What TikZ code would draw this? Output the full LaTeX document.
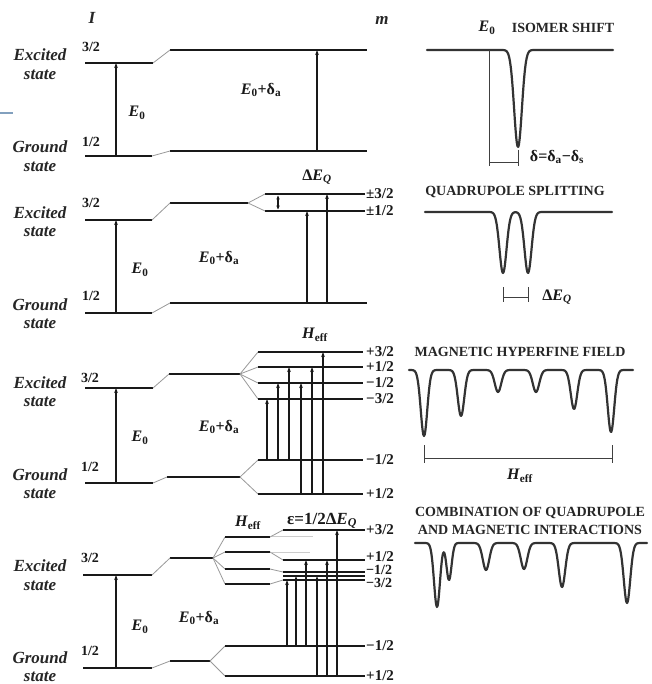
\documentclass[tikz,border=0pt]{standalone}
\usepackage{fontspec}
\setmainfont{Liberation Serif}
\usetikzlibrary{arrows.meta}
\tikzset{
 level/.style={line width=2.6pt, draw=black!90},
 link/.style={line width=0.8pt, draw=black!40},
 faint/.style={line width=0.8pt, draw=black!20},
 trans/.style={line width=1.1pt, draw=black!90, -{Stealth[length=5pt,width=3.6pt]}},
 dbl/.style={line width=1.1pt, draw=black!90, {Stealth[length=4pt,width=3.4pt]}-{Stealth[length=4pt,width=3.4pt]}},
 spec/.style={line width=2.2pt, draw=black!80, line join=round, line cap=round},
 brk/.style={line width=1pt, draw=black!75},
 statelbl/.style={font=\fontsize{17}{17}\selectfont\bfseries\itshape, text=black!85, inner sep=0pt},
 num/.style={font=\fontsize{14}{14}\selectfont\bfseries, text=black!90, inner sep=0pt},
 mlbl/.style={font=\fontsize{15}{15}\selectfont\bfseries, text=black!90, inner sep=0pt, anchor=west},
 elbl/.style={font=\fontsize{16}{16}\selectfont\bfseries, text=black!90, inner sep=0pt},
 title/.style={font=\fontsize{14}{14}\selectfont\bfseries, text=black!85, inner sep=0pt},
 declare function={g(\t,\c,\w)=exp(-min(((\t-\c)/\w)*((\t-\c)/\w),9));}
}
\newcommand\Ez{\textit{E}\textsubscript{0}}
\newcommand\Eza{\textit{E}\textsubscript{0}+δ\textsubscript{a}}
\newcommand\dEQ{Δ\textit{E\textsubscript{Q}}}
\newcommand\Heff{\textit{H}\textsubscript{eff}}
\newcommand\lvl[3]{\draw[level] (#1,#3) -- (#2,#3);}
\newcommand\lnk[4]{\draw[link] (#1,#2) -- (#3,#4);}
\newcommand\tr[3]{\draw[trans] (#1,#2) -- (#1,#3);}
\begin{document}
\begin{tikzpicture}[x=1pt,y=-1pt]
\useasboundingbox (0,0) rectangle (651,684);
\fill[white] (0,0) rectangle (651,684);
\draw[line width=1.5pt, draw={rgb,255:red,130;green,160;blue,190}] (0,113) -- (13,113);

% headers
\node[statelbl] (hI) at (92,18) {I};
\node[statelbl] (hm) at (382,20) {m};

% ---------- panel 1 ----------
\node[statelbl] (ex1) at (40,55) {Excited};
\node[statelbl] (st1) at (40,75) {state};
\node[statelbl] (gr1) at (40,147) {Ground};
\node[statelbl] (sg1) at (40,167) {state};
\node[num] (n1a) at (91,47) {3/2};
\node[num] (n1b) at (91,142) {1/2};
\lvl{85}{153}{63}
\lvl{85}{152}{156}
\lvl{170}{367}{50}
\lvl{170}{367}{151}
\lnk{153}{63}{170}{50}
\lnk{152}{156}{170}{151}
\tr{116}{156}{63}
\tr{317}{151}{50}
\node[elbl] (e1) at (137,113) {\Ez};
\node[elbl] (ed1) at (261,90) {\Eza};

% ---------- panel 2 ----------
\node[statelbl] (ex2) at (40,213) {Excited};
\node[statelbl] (st2) at (40,232) {state};
\node[statelbl] (gr2) at (40,305) {Ground};
\node[statelbl] (sg2) at (40,324) {state};
\node[num] (n2a) at (91,203) {3/2};
\node[num] (n2b) at (91,296) {1/2};
\lvl{85}{152}{220}
\lvl{85}{152}{313}
\lvl{170}{248}{203}
\lvl{265}{365}{194}
\lvl{265}{365}{211}
\lvl{170}{367}{303}
\lnk{152}{220}{170}{203}
\lnk{248}{203}{265}{194}
\lnk{248}{203}{265}{211}
\lnk{152}{313}{170}{303}
\tr{116}{313}{220}
\tr{307}{303}{211}
\tr{327}{303}{194}
\draw[dbl] (278,195.5) -- (278,209.5);
\node[mlbl] (m2a) at (366,194) {±3/2};
\node[mlbl] (m2b) at (366,211) {±1/2};
\node[elbl] (dq2) at (317,177) {\dEQ};
\node[elbl] (e2) at (140,270) {\Ez};
\node[elbl] (ed2) at (219,258) {\Eza};

% ---------- panel 3 ----------
\node[statelbl] (ex3) at (40,383) {Excited};
\node[statelbl] (st3) at (40,402) {state};
\node[statelbl] (gr3) at (40,475) {Ground};
\node[statelbl] (sg3) at (40,494) {state};
\node[num] (n3a) at (90,378) {3/2};
\node[num] (n3b) at (90,467) {1/2};
\lvl{85}{153}{388}
\lvl{85}{153}{483}
\lvl{169}{240}{374}
\lvl{167}{240}{477}
\lnk{153}{388}{169}{374}
\lnk{153}{483}{167}{477}
\foreach \yy in {352,367,383,399}{\lnk{240}{374}{258}{\yy}\lvl{258}{363}{\yy}}
\foreach \yy in {460,494}{\lnk{240}{477}{258}{\yy}\lvl{258}{363}{\yy}}
\tr{116}{483}{388}
\tr{267}{460}{399}
\tr{278}{460}{383}
\tr{289}{460}{367}
\tr{301}{494}{383}
\tr{312}{494}{367}
\tr{323}{494}{352}
\node[mlbl] (m3a) at (366,352) {+3/2};
\node[mlbl] (m3b) at (366,367) {+1/2};
\node[mlbl] (m3c) at (366,383) {−1/2};
\node[mlbl] (m3d) at (366,399) {−3/2};
\node[mlbl] (m3e) at (366,460) {−1/2};
\node[mlbl] (m3f) at (366,494) {+1/2};
\node[elbl] (h3) at (315,335) {\Heff};
\node[elbl] (e3) at (140,438) {\Ez};
\node[elbl] (ed3) at (219,427) {\Eza};

% ---------- panel 4 ----------
\node[statelbl] (ex4) at (40,566) {Excited};
\node[statelbl] (st4) at (40,586) {state};
\node[statelbl] (gr4) at (40,658) {Ground};
\node[statelbl] (sg4) at (40,677) {state};
\node[num] (n4a) at (90,558) {3/2};
\node[num] (n4b) at (90,651) {1/2};
\lvl{83}{152}{575}
\lvl{83}{152}{668}
\lvl{170}{213}{558}
\lnk{152}{575}{170}{558}
\foreach \yy in {537,552,569,584}{\lnk{213}{558}{225}{\yy}\lvl{225}{270}{\yy}}
\draw[faint] (272,536) -- (313,536);
\draw[faint] (272,552) -- (310,552);
\lnk{270}{537}{283}{530}
\lnk{270}{552}{283}{560}
\lnk{270}{569}{283}{572}
\lnk{270}{584}{283}{580}
\lvl{283}{365}{530}
\lvl{283}{365}{560}
\draw[level, line width=1.7pt] (283,572) -- (365,572);
\draw[level, line width=1.7pt] (283,576) -- (365,576);
\draw[level, line width=1.7pt] (283,580) -- (365,580);
\lvl{170}{210}{661}
\lnk{152}{668}{170}{661}
\foreach \yy in {646,676}{\lnk{210}{661}{225}{\yy}\lvl{225}{365}{\yy}}
\tr{116}{668}{575}
\tr{287}{646}{580}
\tr{296}{646}{576}
\tr{306}{646}{560}
\tr{317}{676}{576}
\tr{327}{676}{560}
\tr{337}{676}{530}
\node[mlbl] (m4a) at (366,530) {+3/2};
\node[mlbl] (m4b) at (366,557) {+1/2};
\node[mlbl, font=\fontsize{14}{14}\selectfont\bfseries] (m4c) at (366,570) {−1/2};
\node[mlbl, font=\fontsize{14}{14}\selectfont\bfseries] (m4d) at (366,583) {−3/2};
\node[mlbl] (m4e) at (366,646) {−1/2};
\node[mlbl] (m4f) at (366,676) {+1/2};
\node[elbl] (h4) at (248,523) {\Heff};
\node[elbl, font=\fontsize{17}{17}\selectfont\bfseries] (eps4) at (322,521) {ε=1/2\dEQ};
\node[elbl] (e4) at (140,627) {\Ez};
\node[elbl] (ed4) at (199,618) {\Eza};

% ---------- spectra ----------
\node[elbl] (se1) at (487,28) {\Ez};
\node[title] (t1) at (563,28) {ISOMER SHIFT};
\draw[spec] plot[domain=427:613,samples=260,smooth] (\x,{50+97*g(\x,518,5.5)});
\draw[brk] (489,50) -- (489,166);
\draw[brk] (518,150) -- (518,166);
\draw[brk] (489,163) -- (518,163);
\node[elbl] (sd1) at (557,157) {δ=δ\textsubscript{a}−δ\textsubscript{s}};

\node[title] (t2) at (515,192) {QUADRUPOLE SPLITTING};
\draw[spec] plot[domain=425:612,samples=260,smooth] (\x,{212+61*g(\x,503,5)+61*g(\x,528,5)});
\draw[brk] (503,287) -- (503,302);
\draw[brk] (528,287) -- (528,302);
\draw[brk] (503,297) -- (528,297);
\node[elbl] (sd2) at (557,297) {\dEQ};

\node[title] (t3) at (520,352) {MAGNETIC HYPERFINE FIELD};
\draw[spec] plot[domain=409:633,samples=330,smooth] (\x,{370+66*g(\x,424,4.6)+46*g(\x,461,4.6)+22*g(\x,498,4.6)+22*g(\x,536,4.6)+39*g(\x,574,4.6)+62*g(\x,611,4.6)});
\draw[brk] (424,445) -- (424,463);
\draw[brk] (612,445) -- (612,463);
\draw[brk] (424,458) -- (612,458);
\node[elbl] (sh3) at (520,476) {\Heff};

\node[title] (t4a) at (530,513) {COMBINATION OF QUADRUPOLE};
\node[title] (t4b) at (530,530) {AND MAGNETIC INTERACTIONS};
\draw[spec] plot[domain=415:647,samples=340,smooth] (\x,{543+64*g(\x,437,4.2)+37*g(\x,449,3.6)+27*g(\x,486,4.6)+26*g(\x,524,4.6)+44*g(\x,562,4.6)+60*g(\x,627,4.6)});
\end{tikzpicture}
\end{document}
